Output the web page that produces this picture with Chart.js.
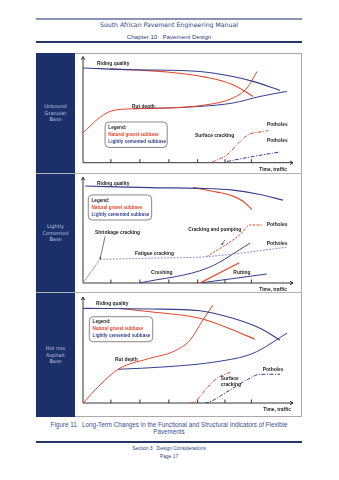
<!DOCTYPE html>
<html>
<head>
<meta charset="utf-8">
<script src="https://cdn.jsdelivr.net/npm/chart.js@4.4.1/dist/chart.umd.min.js"></script>
<style>
html, body { margin: 0; padding: 0; background: #fff; }
body { width: 339px; height: 480px; position: relative; overflow: hidden; font-family: "DejaVu Sans", sans-serif; }
.rule { position: absolute; left: 36px; width: 266px; }
.txt { position: absolute; left: 36px; width: 266px; text-align: center; white-space: nowrap; line-height: 1; }
.box { position: absolute; left: 36px; top: 53px; width: 266px; height: 364px; border: 1px solid #a9a9a9; box-sizing: border-box; }
.side { position: absolute; left: 36px; width: 39px; background: #1b2f6b; color: #bcc5de;
        font-family: "DejaVu Sans", sans-serif; font-size: 5px; line-height: 6.6px; text-align: center;
        display: flex; align-items: center; justify-content: center; }
.sep { position: absolute; left: 36px; width: 266px; height: 1px; background: #b4b4b4; }
canvas { position: absolute; left: 75px; }
</style>
</head>
<body>

<div class="rule" style="top:18px;height:2px;background:#8a94b4;"></div>
<div class="txt" style="top:22px;font-size:6.2px;color:#2f4384;">South African Pavement Engineering Manual</div>
<div class="txt" style="top:33.5px;font-family:'Liberation Sans';font-size:6.2px;color:#2f4384;">Chapter 10:&nbsp; Pavement Design</div>
<div class="rule" style="top:41px;height:1.5px;background:#23366b;"></div>

<div class="box"></div>
<div class="side" style="top:53px;height:120px;">Unbound<br>Granular<br>Base</div>
<div class="side" style="top:174px;height:118px;">Lightly<br>Cemented<br>Base</div>
<div class="side" style="top:293px;height:124px;">Hot mix<br>Asphalt<br>Base</div>
<div class="sep" style="top:173px;"></div>
<div class="sep" style="top:292px;"></div>

<canvas id="ug" width="227" height="120" style="top:53px;"></canvas>
<canvas id="lc" width="227" height="118" style="top:174px;"></canvas>
<canvas id="hm" width="227" height="124" style="top:293px;"></canvas>

<div class="txt" style="top:422px;font-family:'Liberation Sans';font-size:6.3px;color:#3a5190;">Figure 11.&nbsp; Long-Term Changes in the Functional and Structural Indicators of Flexible</div>
<div class="txt" style="top:428.5px;font-family:'Liberation Sans';font-size:6.3px;color:#3a5190;">Pavements</div>
<div class="rule" style="top:441px;height:1.5px;background:#23366b;"></div>
<div class="txt" style="top:446.8px;font-family:'Liberation Sans';font-size:4.9px;color:#2f4384;">Section 3:&nbsp; Design Considerations</div>
<div class="txt" style="top:454.8px;font-family:'Liberation Sans';font-size:4.9px;color:#2f4384;">Page 17</div>

<script>
/* Long-term changes in pavement indicators — three schematic panels.
   x: time / traffic (0-100), y: relative indicator level (0-100) */

const RED = '#e4472f';
const BLUE = '#353f8d';
const GREY_BLUE = '#8d91c6';

// shared x-axis tick marks (no labels)
const timeTicks = [13.3, 27.1, 40.9, 54.6, 67.6, 80.2];
const legendItems = ['Legend:', 'Natural gravel subbase', 'Lightly cemented subbase'];

// ---- Unbound granular base ----
const ugRideBlue = [[0, 89.3], [23.8, 87.7], [55.7, 86.1], [71.4, 81.4], [81, 76.7], [93.8, 68.2]];
const ugRideRed = [[12.9, 88.7], [40, 85.6], [59, 80.5], [71.4, 73.6], [81, 62.5]];
const ugRutRed = [[0, 28], [6.7, 40.6], [12.9, 48.4], [23.8, 50.9], [40, 51.6], [59, 54.7], [71.4, 61], [78.1, 70.5], [82.9, 86.1]];
const ugRutBlue = [[23.8, 50.9], [40, 51.6], [55.7, 53.1], [71.4, 56.3], [84.3, 62.5], [97.1, 67.3]];
const ugCrackRed = [[61.4, 0.5], [68.6, 7.5], [74.8, 20.1], [78.6, 26.4], [84.3, 29], [88.1, 30.2]];
const ugPotholeBlue = [[68.6, 1.2], [81, 5.9], [93.8, 10.1]];
const ugNotes = [
    ['Riding quality', 6.7, 93.4],
    ['Rut depth', 23.3, 52.8],
    ['Potholes', 87.6, 35.8],
    ['Surface cracking', 53.3, 25.5],
    ['Potholes', 87.6, 20.8]
];
const ugLegendBox = [10.5, 38.4, 40.1, 14.4];

// ---- Lightly cemented base ----
const lcRideBlue = [[1, 91.7], [31.9, 90.2], [55.7, 89.5], [71.4, 87.9], [84.3, 83.8], [95.2, 78.4]];
const lcRideRed = [[52.4, 90.2], [63.8, 86], [71.4, 82.2], [76.2, 77.4], [80.5, 69.5]];
const lcShrink = [[0, 0], [8.1, 22.4]];
const lcFatigue = [[8.1, 22.4], [31.9, 23.5], [58.8, 24.9], [97, 33.8]];
const lcPumpRed = [[58.8, 24.9], [66.8, 34.7], [74.8, 45.8], [79.5, 54.9], [85.1, 54.9]];
const lcCrushBlue = [[27.1, 0], [59.7, 14.5], [79.5, 37.6]];
const lcRutRed = [[55.7, 0], [74.4, 19.2]];
const lcRutBlue = [[55.7, 0], [87.5, 8.5]];
const lcNotes = [
    ['Riding quality', 6.7, 94.3],
    ['Shrinkage cracking', 5.7, 47.6],
    ['Cracking and pumping', 50.1, 50.1],
    ['Potholes', 87.5, 54.9],
    ['Potholes', 87.5, 36.9],
    ['Fatigue cracking', 24.8, 27.4],
    ['Crushing', 32.4, 9.7],
    ['Rutting', 71.6, 9.7]
];
const lcPointers = [[[10.5, 44], [8.1, 22.4]], [[67.6, 40.7], [66, 36]]];
const lcLegendBox = [2.5, 83.3, 32.7, 59.6];

// ---- Hot mix asphalt base ----
const hmRideBlue = [[0, 89.3], [31.9, 88.7], [55.7, 87.1], [71.4, 79.9], [84.3, 70.5], [93.8, 59.4]];
const hmRideRed = [[17.6, 89.3], [31.9, 86.1], [55.7, 79.9], [71.4, 68.9], [81.9, 60.1]];
const hmRutRed = [[0, 0], [8.1, 17], [16.7, 31.8], [31.9, 42.2], [42.9, 48.4], [51, 59.4], [57.1, 78.3], [61.9, 92.5]];
const hmRutBlue = [[16.7, 31.8], [40, 34.2], [63.8, 39], [81, 46.9], [97.1, 65.8]];
const hmCrackRed = [[51, 0], [53.3, 1.2], [58.9, 13.9], [63.7, 23.3], [70.8, 29.5]];
const hmPotholeBlue = [[58, 0], [60.5, 1.2], [70, 12.3], [78, 21.7], [84.3, 27.1], [93.8, 27.1]];
const hmNotes = [
    ['Riding quality', 6.2, 94.1],
    ['Rut depth', 15.2, 41.2],
    ['Surface', 65.6, 22.6],
    ['cracking', 65.6, 17],
    ['Potholes', 85.6, 31.1]
];
const hmLegendBox = [3, 81.4, 33.2, 57.8];

function line(points, color, dash, width) {
    return {
        data: points.map(([x, y]) => ({ x, y })),
        borderColor: color,
        borderWidth: width || 1,
        borderDash: dash || [],
        showLine: true,
        pointRadius: 0,
        fill: false,
        cubicInterpolationMode: 'monotone'
    };
}

const decor = {
    id: 'decor',
    beforeDatasetsDraw(chart, args, o) {
        const { ctx, scales: { x, y } } = chart;
        const x0 = x.getPixelForValue(0), y0 = y.getPixelForValue(0);
        const xe = x.getPixelForValue(100), ye = y.getPixelForValue(100);
        ctx.save();
        ctx.strokeStyle = '#1e1e1e';
        ctx.lineWidth = 0.9;
        ctx.beginPath();
        ctx.moveTo(x0, y0); ctx.lineTo(x0, ye);
        ctx.moveTo(x0, y0); ctx.lineTo(xe, y0);
        ctx.moveTo(x0 - 1.8, ye + 3); ctx.lineTo(x0, ye); ctx.lineTo(x0 + 1.8, ye + 3);
        ctx.moveTo(xe - 3, y0 - 1.8); ctx.lineTo(xe, y0); ctx.lineTo(xe - 3, y0 + 1.8);
        timeTicks.forEach(t => {
            const px = x.getPixelForValue(t);
            ctx.moveTo(px, y0); ctx.lineTo(px, y0 - 3.5);
        });
        ctx.stroke();
        ctx.restore();
    },
    afterDatasetsDraw(chart, args, o) {
        const { ctx, scales: { x, y } } = chart;
        ctx.save();
        // legend box
        const [bx0, by0, bx1, by1] = o.legendBox;
        const L = x.getPixelForValue(bx0), T = y.getPixelForValue(by0);
        const R = x.getPixelForValue(bx1), B = y.getPixelForValue(by1);
        ctx.strokeStyle = '#6a6a6a';
        ctx.lineWidth = 0.8;
        ctx.beginPath();
        ctx.roundRect(L, T, R - L, B - T, 4);
        ctx.stroke();
        ctx.textBaseline = 'middle';
        ctx.textAlign = 'left';
        ctx.font = 'bold 4.6px "Liberation Sans", Arial, sans-serif';
        const legendColors = ['#1e1e1e', RED, BLUE];
        const offs = [5.4, 12.4, 19.4];
        legendItems.forEach((txt, i) => {
            ctx.fillStyle = legendColors[i];
            ctx.fillText(txt, L + 3.3, T + offs[i]);
        });
        // notes
        ctx.fillStyle = '#1e1e1e';
        ctx.font = 'bold 4.9px "Liberation Sans", Arial, sans-serif';
        o.notes.forEach(([txt, nx, ny]) => {
            ctx.fillText(txt, x.getPixelForValue(nx), y.getPixelForValue(ny));
        });
        ctx.textAlign = 'right';
        ctx.fillText('Time, traffic', x.getPixelForValue(o.timeLabelX), y.getPixelForValue(0) + 6.5);
        // pointer arrows
        ctx.strokeStyle = '#1e1e1e';
        ctx.lineWidth = 0.6;
        (o.pointers || []).forEach(([[ax, ay], [bx, by]]) => {
            const p1x = x.getPixelForValue(ax), p1y = y.getPixelForValue(ay);
            const p2x = x.getPixelForValue(bx), p2y = y.getPixelForValue(by);
            const ang = Math.atan2(p2y - p1y, p2x - p1x);
            ctx.beginPath();
            ctx.moveTo(p1x, p1y); ctx.lineTo(p2x, p2y);
            ctx.stroke();
            ctx.beginPath();
            ctx.moveTo(p2x, p2y);
            ctx.lineTo(p2x - 2.2 * Math.cos(ang - 0.45), p2y - 2.2 * Math.sin(ang - 0.45));
            ctx.lineTo(p2x - 2.2 * Math.cos(ang + 0.45), p2y - 2.2 * Math.sin(ang + 0.45));
            ctx.closePath();
            ctx.fillStyle = '#1e1e1e';
            ctx.fill();
        });
        ctx.restore();
    }
};

function makePanel(id, datasets, opts, padding) {
    return new Chart(document.getElementById(id), {
        type: 'scatter',
        data: { datasets },
        options: {
            responsive: false,
            animation: false,
            layout: { padding },
            scales: {
                x: { type: 'linear', min: 0, max: 100, display: false },
                y: { type: 'linear', min: 0, max: 100, display: false }
            },
            plugins: {
                legend: { display: false },
                tooltip: { enabled: false },
                decor: opts
            }
        },
        plugins: [decor]
    });
}

makePanel('ug', [
    line(ugRideBlue, BLUE, null, 1.1),
    line(ugRideRed, RED, null, 1.1),
    line(ugRutRed, RED),
    line(ugRutBlue, BLUE),
    line(ugCrackRed, RED, [4, 1.5, 1, 1.5]),
    line(ugPotholeBlue, BLUE, [4, 1.5, 1, 1.5])
], { notes: ugNotes, legendBox: ugLegendBox, timeLabelX: 97.1 },
   { left: 8, right: 9, top: 3.7, bottom: 10.3 });

makePanel('lc', [
    line(lcRideBlue, BLUE, null, 1.1),
    line(lcRideRed, RED, null, 1.1),
    line(lcShrink, GREY_BLUE, null, 0.8),
    line(lcFatigue, GREY_BLUE, [2, 1.2]),
    line(lcPumpRed, RED, [2.5, 1.3]),
    line(lcCrushBlue, BLUE),
    line(lcRutRed, RED, null, 1.3),
    line(lcRutBlue, BLUE)
], { notes: lcNotes, legendBox: lcLegendBox, pointers: lcPointers, timeLabelX: 97.1 },
   { left: 8, right: 9, top: 3.3, bottom: 9 });

makePanel('hm', [
    line(hmRideBlue, BLUE, null, 1.1),
    line(hmRideRed, RED, null, 1.1),
    line(hmRutRed, RED),
    line(hmRutBlue, BLUE),
    line(hmCrackRed, RED, [4, 1.5, 1, 1.5]),
    line(hmPotholeBlue, BLUE, [4, 1.5, 1, 1.5])
], { notes: hmNotes, legendBox: hmLegendBox, timeLabelX: 99 },
   { left: 8, right: 9, top: 4, bottom: 14 });
</script>
</body>
</html>
